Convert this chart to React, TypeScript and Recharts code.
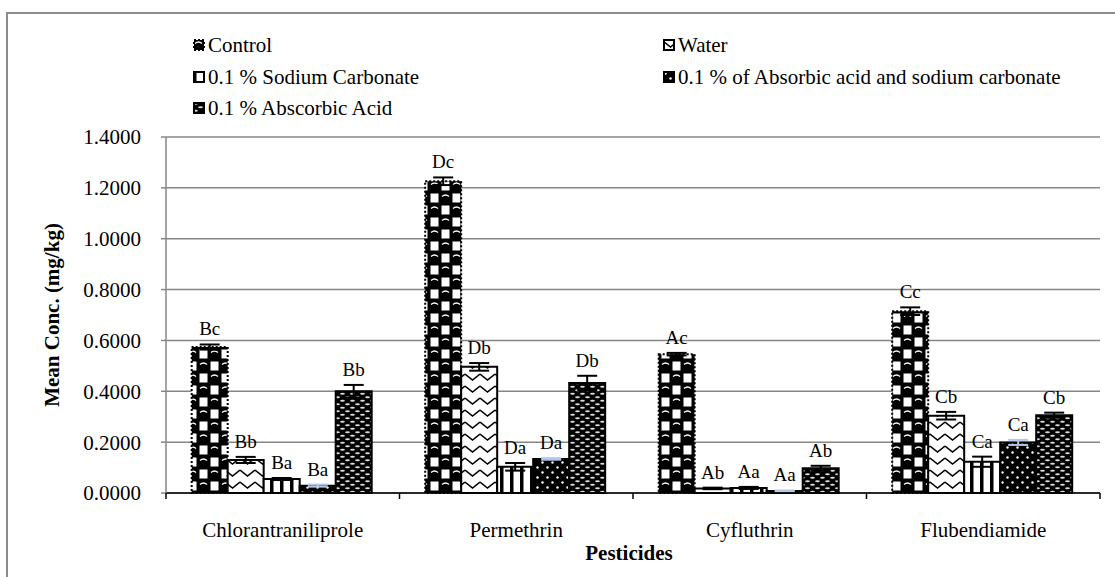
import React from 'react';
import { BarChart, Bar, XAxis, YAxis, CartesianGrid, ErrorBar, LabelList, Label } from 'recharts';

const pesticides = ['Chlorantraniliprole', 'Permethrin', 'Cyfluthrin', 'Flubendiamide'];

const control = [0.574, 1.226, 0.546, 0.715];
const controlErr = [0.01, 0.015, 0.005, 0.015];
const controlLetters = ['Bc', 'Dc', 'Ac', 'Cc'];

const water = [0.13, 0.496, 0.018, 0.304];
const waterErr = [0.012, 0.015, 0.003, 0.015];
const waterLetters = ['Bb', 'Db', 'Ab', 'Cb'];

const sodiumCarbonate = [0.055, 0.103, 0.02, 0.123];
const sodiumCarbonateErr = [0.004, 0.015, 0.004, 0.02];
const sodiumCarbonateLetters = ['Ba', 'Da', 'Aa', 'Ca'];

const mixed = [0.029, 0.134, 0.008, 0.199];
const mixedErr = [0.004, 0.003, 0.002, 0.01];
const mixedLetters = ['Ba', 'Da', 'Aa', 'Ca'];

const ascorbic = [0.4, 0.433, 0.097, 0.306];
const ascorbicErr = [0.025, 0.028, 0.01, 0.01];
const ascorbicLetters = ['Bb', 'Db', 'Ab', 'Cb'];

const yTicks = [0, 0.2, 0.4, 0.6, 0.8, 1.0, 1.2, 1.4];

const data = pesticides.map((name, i) => ({
  name,
  control: control[i], controlErr: controlErr[i], controlLbl: controlLetters[i],
  water: water[i], waterErr: waterErr[i], waterLbl: waterLetters[i],
  sc: sodiumCarbonate[i], scErr: sodiumCarbonateErr[i], scLbl: sodiumCarbonateLetters[i],
  mix: mixed[i], mixErr: mixedErr[i], mixLbl: mixedLetters[i],
  aa: ascorbic[i], aaErr: ascorbicErr[i], aaLbl: ascorbicLetters[i],
}));

const series = [
  { key: 'control', name: 'Control', fill: 'pControl', errs: controlErr, dash: '2 2', errColor: '#000' },
  { key: 'water', name: 'Water', fill: 'pWater', errs: waterErr, dash: undefined, errColor: '#000' },
  { key: 'sc', name: '0.1 % Sodium Carbonate', fill: 'pSc', errs: sodiumCarbonateErr, dash: undefined, errColor: '#000' },
  { key: 'mix', name: '0.1 % of Absorbic acid and sodium carbonate', fill: 'pMix', errs: mixedErr, dash: undefined, errColor: '#b4c7e7' },
  { key: 'aa', name: '0.1 % Abscorbic Acid', fill: 'pAa', errs: ascorbicErr, dash: undefined, errColor: '#000' },
];

const FONT = '"Liberation Serif", "Times New Roman", serif';
const W = 1115;
const H = 577;
const PLOT_LEFT = 166;
const PLOT_RIGHT = 1100;
const PLOT_TOP = 137;
const PLOT_BOTTOM = 493;
const Y_MAX = 1.4;
const PLOT_H = PLOT_BOTTOM - PLOT_TOP;
const BAND = (PLOT_RIGHT - PLOT_LEFT) / pesticides.length;

const makeLabel = (errs: number[]) => (props: any) => {
  const { x, y, width, value, index } = props;
  const errPx = (errs[index] / Y_MAX) * PLOT_H;
  return (
    <text x={x + width / 2} y={y - errPx - 9} textAnchor="middle" fontSize={19} fontFamily={FONT} fill="#000">
      {value}
    </text>
  );
};

const CategoryTick = (props: any) => {
  const { x, y, payload, index } = props;
  const last = index === pesticides.length - 1;
  return (
    <g>
      <line x1={x - BAND / 2} x2={x - BAND / 2} y1={y} y2={y + 6} stroke="#000" strokeWidth={1.5} />
      {last && <line x1={x + BAND / 2} x2={x + BAND / 2} y1={y} y2={y + 6} stroke="#000" strokeWidth={1.5} />}
      <text x={x} y={y + 44} textAnchor="middle" fontSize={21} fontFamily={FONT} fill="#000">
        {payload.value}
      </text>
    </g>
  );
};

// checker of black balls and white squares
const Patterns = () => (
  <defs>
    <pattern id="pControl" width={22} height={24} patternUnits="userSpaceOnUse">
      <rect width={22} height={24} fill="#000" />
      <rect x={12.5} y={1.5} width={8} height={9} fill="#fff" />
      <rect x={1.5} y={13.5} width={8} height={9} fill="#fff" />
      <path d="M2 4.5 Q5.5 1.5 9 4.5" stroke="#fff" strokeWidth={1.3} fill="none" />
      <path d="M13 16.5 Q16.5 13.5 20 16.5" stroke="#fff" strokeWidth={1.3} fill="none" />
    </pattern>
    <pattern id="pWater" width={15} height={12} patternUnits="userSpaceOnUse">
      <rect width={15} height={12} fill="#fff" />
      <path d="M0 2 L7.5 8 L15 2" stroke="#000" strokeWidth={1.6} fill="none" />
    </pattern>
    <pattern id="pSc" width={10} height={10} patternUnits="userSpaceOnUse">
      <rect width={10} height={10} fill="#fff" />
      <rect x={0} y={0} width={3.5} height={10} fill="#000" />
    </pattern>
    <pattern id="pMix" width={10} height={10} patternUnits="userSpaceOnUse">
      <rect width={10} height={10} fill="#000" />
      <circle cx={2.5} cy={2.5} r={1.2} fill="#fff" />
      <circle cx={7.5} cy={7.5} r={1.2} fill="#fff" />
    </pattern>
    <pattern id="pAa" width={10} height={7} patternUnits="userSpaceOnUse">
      <rect width={10} height={7} fill="#000" />
      <ellipse cx={2.5} cy={1.75} rx={2.4} ry={1.1} fill="#ddd" />
      <ellipse cx={7.5} cy={5.25} rx={2.4} ry={1.1} fill="#ddd" />
    </pattern>
  </defs>
);

const legendPos = [
  { left: 193, top: 45 },
  { left: 663, top: 45 },
  { left: 193, top: 77 },
  { left: 663, top: 77 },
  { left: 193, top: 108 },
];

const ChartLegend = () => (
  <>
    {series.map((s, i) => (
      <div
        key={s.key}
        style={{
          position: 'absolute',
          left: legendPos[i].left,
          top: legendPos[i].top - 13,
          height: 26,
          display: 'flex',
          alignItems: 'center',
          fontFamily: FONT,
          fontSize: 21,
          whiteSpace: 'nowrap',
          color: '#000',
        }}
      >
        <svg width={12} height={12} style={{ marginRight: 3 }}>
          <rect x={1} y={1} width={10} height={10} fill={`url(#${s.fill})`} stroke="#000" strokeWidth={2} strokeDasharray={s.dash} />
        </svg>
        {s.name}
      </div>
    ))}
  </>
);

export default function App() {
  return (
    <div style={{ position: 'absolute', left: 0, top: 0, width: W, height: H, background: '#fff', overflow: 'hidden' }}>
      <div
        style={{
          position: 'absolute',
          left: 6,
          top: 12,
          width: W - 6,
          height: H - 12,
          borderLeft: '2px solid #8c8c8c',
          borderTop: '2px solid #8c8c8c',
        }}
      />
      <div style={{ position: 'absolute', left: 0, top: 0 }}>
        <BarChart
          width={W}
          height={H}
          data={data}
          margin={{ top: PLOT_TOP, right: W - PLOT_RIGHT, left: PLOT_LEFT - 60, bottom: H - PLOT_BOTTOM - 30 }}
          barCategoryGap="11%"
          barGap={0}
        >
          <Patterns />
          <CartesianGrid vertical={false} stroke="#868686" strokeWidth={1.5} />
          <XAxis
            dataKey="name"
            height={30}
            tickSize={0}
            tickMargin={0}
            tick={<CategoryTick />}
            axisLine={{ stroke: '#000', strokeWidth: 1.5 }}
            interval={0}
          >
            <Label
              content={() => (
                <text x={(PLOT_LEFT + PLOT_RIGHT) / 2 - 4} y={560} textAnchor="middle" fontSize={21} fontWeight="bold" fontFamily={FONT} fill="#000">
                  Pesticides
                </text>
              )}
            />
          </XAxis>
          <YAxis
            width={60}
            domain={[0, Y_MAX]}
            ticks={yTicks}
            tickFormatter={(v: number) => v.toFixed(4)}
            tick={{ fontSize: 21, fontFamily: FONT, fill: '#000' }}
            tickSize={5}
            tickMargin={20}
            tickLine={{ stroke: '#868686', strokeWidth: 1.5 }}
            axisLine={{ stroke: '#868686', strokeWidth: 1.5 }}
          >
            <Label
              content={() => (
                <text
                  transform={`translate(59, ${(PLOT_TOP + PLOT_BOTTOM) / 2}) rotate(-90)`}
                  textAnchor="middle"
                  fontSize={21}
                  fontWeight="bold"
                  fontFamily={FONT}
                  fill="#000"
                >
                  Mean Conc. (mg/kg)
                </text>
              )}
            />
          </YAxis>
          {series.map((s) => (
            <Bar
              key={s.key}
              dataKey={s.key}
              name={s.name}
              fill={`url(#${s.fill})`}
              stroke="#000"
              strokeWidth={2}
              strokeDasharray={s.dash}
              isAnimationActive={false}
            >
              <ErrorBar dataKey={`${s.key}Err`} width={10} stroke={s.errColor} strokeWidth={2} direction="y" />
              <LabelList dataKey={`${s.key}Lbl`} content={makeLabel(s.errs)} />
            </Bar>
          ))}
        </BarChart>
      </div>
      <ChartLegend />
    </div>
  );
}
